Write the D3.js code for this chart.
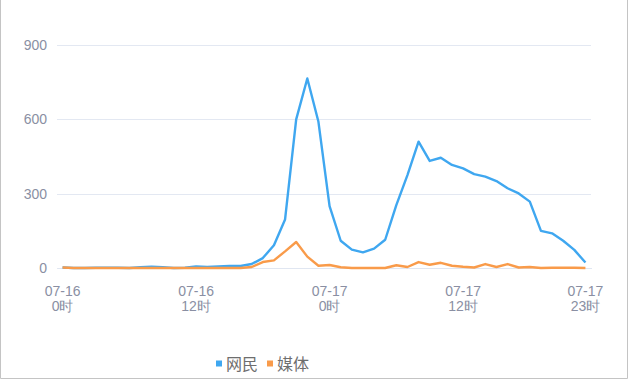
<!DOCTYPE html>
<html><head><meta charset="utf-8">
<script src="https://cdn.jsdelivr.net/npm/d3@7/dist/d3.min.js"></script>
<style>
html,body{margin:0;padding:0;background:#fff;}
svg{display:block;font-family:"Microsoft YaHei","Noto Sans CJK SC","Liberation Sans",sans-serif;}
</style></head>
<body>
<svg id="c" width="630" height="380"></svg>
<script>
const hours = d3.range(48);
const xTickIdx = [0, 12, 24, 36, 47];
const xTickLabels = [["07-16","0时"],["07-16","12时"],["07-17","0时"],["07-17","12时"],["07-17","23时"]];
const yTicks = [0, 300, 600, 900];
const seriesNames = ["网民", "媒体"];
const netizen = [2,0,0,1,1,1,0,3,5,3,0,1,6,4,6,8,8,16,40,92,196,600,765,590,250,110,74,63,78,114,254,375,510,432,445,416,402,379,369,351,322,301,268,150,140,110,73,22];
const media = [2,0,0,0,0,0,0,0,0,0,0,0,0,0,0,0,0,4,24,31,67,105,46,9,12,3,0,0,0,0,11,4,24,13,21,9,5,2,16,4,16,2,4,0,1,1,1,0];
const colors = ["#3fa7f0", "#f99b4a"];

const svg = d3.select("#c");
const L = 57, R = 591, T = 45, B = 268;
const x = d3.scaleBand().domain(hours).range([L, R]);
const y = d3.scaleLinear().domain([0, 900]).range([B, T]);
const cx = i => x(i) + x.bandwidth() / 2;

// border
svg.append("path").attr("d", "M0.5,0 V378.5 H627.5 V0").attr("fill", "none").attr("stroke", "#c4c4c4").attr("stroke-width", 1);

// grid
const yAxis = d3.axisLeft(y).tickValues(yTicks).tickSize(-(R - L)).tickPadding(10);
const gy = svg.append("g").attr("transform", `translate(${L},0)`).call(yAxis);
gy.select(".domain").remove();
gy.selectAll(".tick line").attr("stroke", "#e3e8f2").attr("shape-rendering", "crispEdges");
gy.selectAll(".tick text").attr("fill", "#8a8fa3").attr("font-size", "14px");

// x axis
const xAxis = d3.axisBottom(x).tickValues(xTickIdx).tickSize(0).tickFormat(() => "");
const gx = svg.append("g").attr("transform", `translate(0,${B})`).call(xAxis);
gx.select(".domain").attr("stroke", "#e0e6f1").attr("shape-rendering", "crispEdges");
gx.selectAll(".tick").each(function(d, i) {
  const t = d3.select(this).select("text").attr("fill", "#8a8fa3").attr("font-size", "14px").attr("y", 0).attr("dy", null);
  t.selectAll("tspan").data(xTickLabels[i]).enter().append("tspan")
    .attr("x", 0).attr("y", (dd, j) => 28 + j * 15).text(dd => dd);
});

// lines
const line = d3.line().x((d, i) => cx(i)).y(d => y(d));
[netizen, media].forEach((s, k) => {
  svg.append("path").datum(s).attr("d", line).attr("fill", "none")
    .attr("stroke", colors[k]).attr("stroke-width", 2.4).attr("stroke-linejoin", "round");
});

// legend
const lg = svg.append("g");
const legX = [216, 267];
seriesNames.forEach((n, k) => {
  lg.append("rect").attr("x", legX[k]).attr("y", 360.5).attr("width", 6).attr("height", 6).attr("fill", colors[k]);
  lg.append("text").attr("x", legX[k] + 10).attr("y", 369.5).attr("font-size", "16px").attr("fill", "#6e6e6e").text(n);
});
</script>
</body></html>
